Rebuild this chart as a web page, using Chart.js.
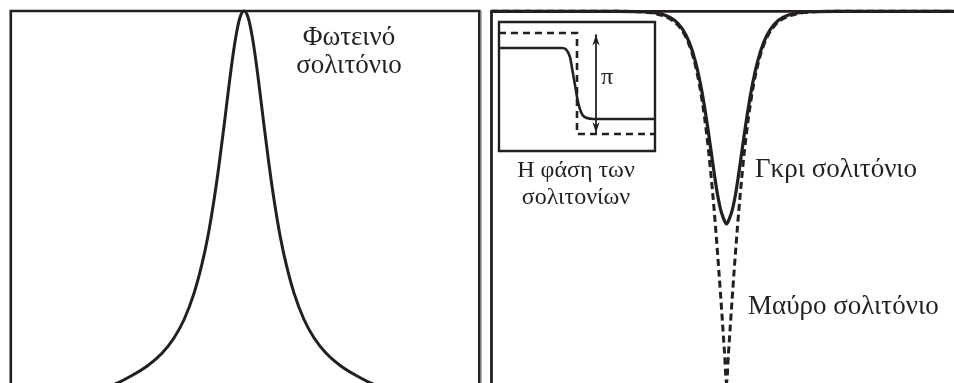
<!DOCTYPE html>
<html>
<head>
<meta charset="utf-8">
<script src="https://cdn.jsdelivr.net/npm/chart.js@4.4.1/dist/chart.umd.min.js"></script>
<style>
  html, body { margin: 0; padding: 0; background: #fff; }
  #stage { position: relative; width: 954px; height: 383px; overflow: hidden; background: #fff; }
  #stage canvas { position: absolute; }
  .lbl {
    position: absolute;
    font-family: "Liberation Serif", "DejaVu Serif", serif;
    font-size: 27px;
    color: #231f20;
    white-space: nowrap;
    line-height: 27px;
  }
  .small { font-size: 24px; }
</style>
</head>
<body>
<div id="stage">
  <canvas id="bright" width="482" height="383" style="left:0;top:0"></canvas>
  <canvas id="dark" width="468" height="383" style="left:486px;top:0"></canvas>
  <canvas id="phase" width="164" height="137" style="left:495px;top:18px"></canvas>

  <div class="lbl" style="left:269px;top:22px;width:160px;text-align:center;line-height:28px">Φωτεινό<br>σολιτόνιο</div>
  <div class="lbl small" style="left:496px;top:156px;width:160px;text-align:center">Η φάση των<br>σολιτονίων</div>
  <div class="lbl" style="left:755px;top:155px">Γκρι σολιτόνιο</div>
  <div class="lbl" style="left:748px;top:292px">Μαύρο σολιτόνιο</div>
  <div class="lbl small" style="left:601px;top:63px">π</div>
</div>

<script>
// Bright soliton: position across the pulse (tens of px) and normalised intensity
const brightX = [-23.5, -20, -16, -13, -11.2, -9.6, -8.2, -7.0, -6.0, -5.0, -4.2, -3.6, -3.0, -2.5, -2.0, -1.6, -1.2, -0.8, -0.4, 0,
                 0.4, 0.8, 1.2, 1.6, 2.0, 2.5, 3.0, 3.6, 4.2, 5.0, 6.0, 7.0, 8.2, 9.6, 11.2, 13, 16, 20, 23.6];
const brightI = [-0.040, -0.035, -0.025, -0.004, 0.020, 0.047, 0.080, 0.121, 0.170, 0.241, 0.320, 0.396, 0.492, 0.586, 0.691, 0.779, 0.863, 0.934, 0.983, 1.0,
                 0.983, 0.934, 0.863, 0.779, 0.691, 0.586, 0.492, 0.396, 0.320, 0.241, 0.170, 0.121, 0.080, 0.047, 0.020, -0.004, -0.025, -0.035, -0.040];

// Grey soliton: intensity dip that does not reach zero
const greyX = [-23.5, -11, -9.0, -7.5, -6.2, -5.2, -4.4, -3.7, -3.1, -2.6, -2.2, -1.8, -1.5, -1.2, -0.9, -0.6, -0.3, 0,
               0.3, 0.6, 0.9, 1.2, 1.5, 1.8, 2.2, 2.6, 3.1, 3.7, 4.4, 5.2, 6.2, 7.5, 9.0, 11, 22.8];
const greyI = [1.0, 1.0, 0.999, 0.997, 0.990, 0.976, 0.952, 0.915, 0.864, 0.804, 0.743, 0.673, 0.616, 0.559, 0.507, 0.468, 0.443, 0.428,
               0.443, 0.468, 0.507, 0.559, 0.616, 0.673, 0.743, 0.804, 0.864, 0.915, 0.952, 0.976, 0.990, 0.997, 0.999, 1.0, 1.0];

// Black soliton: dark dip falling all the way to zero
const blackX = [-23.5, -11, -8.5, -7.0, -5.8, -4.8, -4.0, -3.3, -2.7, -2.2, -1.8, -1.4, -1.1, -0.8, -0.6, -0.4, -0.2, 0,
                0.2, 0.4, 0.6, 0.8, 1.1, 1.4, 1.8, 2.2, 2.7, 3.3, 4.0, 4.8, 5.8, 7.0, 8.5, 11, 22.8];
const blackI = [1.0, 1.0, 0.998, 0.993, 0.982, 0.961, 0.927, 0.874, 0.801, 0.715, 0.626, 0.516, 0.421, 0.315, 0.240, 0.162, 0.082, 0,
                0.082, 0.162, 0.240, 0.315, 0.421, 0.516, 0.626, 0.715, 0.801, 0.874, 0.927, 0.961, 0.982, 0.993, 0.998, 1.0, 1.0];

// Phase across each soliton (inset); phase levels in units of π
const greyPhaseX = [-7.8, -1.5, -1.1, -0.7, -0.5, -0.2, 0.1, 0.4, 0.6, 1.0, 1.6, 7.8];
const greyPhase  = [0.851, 0.851, 0.837, 0.762, 0.653, 0.485, 0.317, 0.218, 0.183, 0.158, 0.149, 0.149];
const blackPhaseX = [-7.8, 0, 0, 7.8];
const blackPhase  = [1, 1, 0, 0];
// π phase jump marker
const jumpX = [1.9, 1.9];
const jumpY = [0.985, 0.01];

const ink = '#231f20';
const pts = (xs, ys) => xs.map((x, i) => ({ x, y: ys[i] }));

// Draws the panel frame along the chosen edges of the plot area
const framePlugin = {
  id: 'frame',
  afterDatasetsDraw(chart, args, opts) {
    const { ctx, chartArea: a } = chart;
    const ext = opts.extend || 0;
    ctx.save();
    ctx.strokeStyle = ink;
    ctx.lineWidth = opts.width;
    ctx.lineCap = 'square';
    ctx.beginPath();
    const sides = opts.sides || [];
    if (sides.includes('top'))    { ctx.moveTo(a.left, a.top);    ctx.lineTo(a.right, a.top); }
    if (sides.includes('left'))   { ctx.moveTo(a.left, a.top);    ctx.lineTo(a.left, a.bottom + ext); }
    if (sides.includes('right'))  { ctx.moveTo(a.right, a.top);   ctx.lineTo(a.right, a.bottom + ext); }
    if (sides.includes('bottom')) { ctx.moveTo(a.left, a.bottom); ctx.lineTo(a.right, a.bottom); }
    ctx.stroke();
    if (opts.edge) {
      ctx.strokeStyle = opts.edge;
      ctx.lineWidth = 1;
      ctx.beginPath();
      ctx.moveTo(a.right + 2, a.top);
      ctx.lineTo(a.right + 2, a.bottom + ext);
      ctx.stroke();
    }
    ctx.restore();
  }
};

// Arrowheads on both ends of datasets flagged with arrowHeads
const arrowPlugin = {
  id: 'arrows',
  afterDatasetsDraw(chart) {
    const { ctx } = chart;
    chart.data.datasets.forEach((ds, i) => {
      if (!ds.arrowHeads) return;
      const el = chart.getDatasetMeta(i).data;
      const ends = [[el[0], el[1]], [el[el.length - 1], el[el.length - 2]]];
      ctx.save();
      ctx.fillStyle = ink;
      ends.forEach(([tip, from]) => {
        const ang = Math.atan2(tip.y - from.y, tip.x - from.x);
        const len = 11, half = 3.6;
        ctx.beginPath();
        ctx.moveTo(tip.x, tip.y);
        ctx.lineTo(tip.x - len * Math.cos(ang) + half * Math.sin(ang), tip.y - len * Math.sin(ang) - half * Math.cos(ang));
        ctx.lineTo(tip.x - len * 0.7 * Math.cos(ang), tip.y - len * 0.7 * Math.sin(ang));
        ctx.lineTo(tip.x - len * Math.cos(ang) - half * Math.sin(ang), tip.y - len * Math.sin(ang) + half * Math.cos(ang));
        ctx.closePath();
        ctx.fill();
      });
      ctx.restore();
    });
  }
};

function baseOptions(padding, xRange, yRange, frame) {
  return {
    responsive: false,
    animation: false,
    events: [],
    layout: { padding },
    scales: {
      x: { type: 'linear', min: xRange[0], max: xRange[1], display: false },
      y: { type: 'linear', min: yRange[0], max: yRange[1], display: false }
    },
    plugins: { legend: { display: false }, tooltip: { enabled: false }, frame }
  };
}

new Chart(document.getElementById('bright'), {
  type: 'line',
  data: {
    datasets: [{
      data: pts(brightX, brightI),
      borderColor: ink, borderWidth: 3, pointRadius: 0,
      cubicInterpolationMode: 'monotone', fill: false, clip: false
    }]
  },
  options: baseOptions({ left: 10.8, top: 11, right: 2.7, bottom: 0 }, [-23.3, 23.5], [0, 1],
                       { sides: ['top', 'left', 'right'], width: 2.6, edge: '#9a9a9a', extend: 5 }),
  plugins: [framePlugin]
});

new Chart(document.getElementById('dark'), {
  type: 'line',
  data: {
    datasets: [
      {
        data: pts(blackX, blackI),
        borderColor: ink, borderWidth: 3, borderDash: [7, 4], pointRadius: 0,
        cubicInterpolationMode: 'monotone', fill: false, clip: false
      },
      {
        data: pts(greyX, greyI),
        borderColor: ink, borderWidth: 3.2, pointRadius: 0,
        cubicInterpolationMode: 'monotone', fill: false, clip: false
      }
    ]
  },
  options: baseOptions({ left: 5.5, top: 11.3, right: 0, bottom: 0 }, [-23.5, 22.75], [0, 1],
                       { sides: ['top', 'left'], width: 2.8, extend: 5 }),
  plugins: [framePlugin]
});

new Chart(document.getElementById('phase'), {
  type: 'line',
  data: {
    datasets: [
      {
        data: pts(blackPhaseX, blackPhase),
        borderColor: ink, borderWidth: 2.6, borderDash: [7, 5], pointRadius: 0,
        tension: 0, fill: false, clip: false
      },
      {
        data: pts(greyPhaseX, greyPhase),
        borderColor: ink, borderWidth: 2.6, pointRadius: 0,
        cubicInterpolationMode: 'monotone', fill: false, clip: false
      },
      {
        data: pts(jumpX, jumpY),
        borderColor: ink, borderWidth: 1, pointRadius: 0,
        tension: 0, fill: false, clip: false, arrowHeads: true
      }
    ]
  },
  options: baseOptions({ left: 4, top: 4, right: 4, bottom: 4 }, [-7.8, 7.8], [-0.168, 1.109],
                       { sides: ['top', 'left', 'right', 'bottom'], width: 2.4 }),
  plugins: [framePlugin, arrowPlugin]
});
</script>
</body>
</html>
